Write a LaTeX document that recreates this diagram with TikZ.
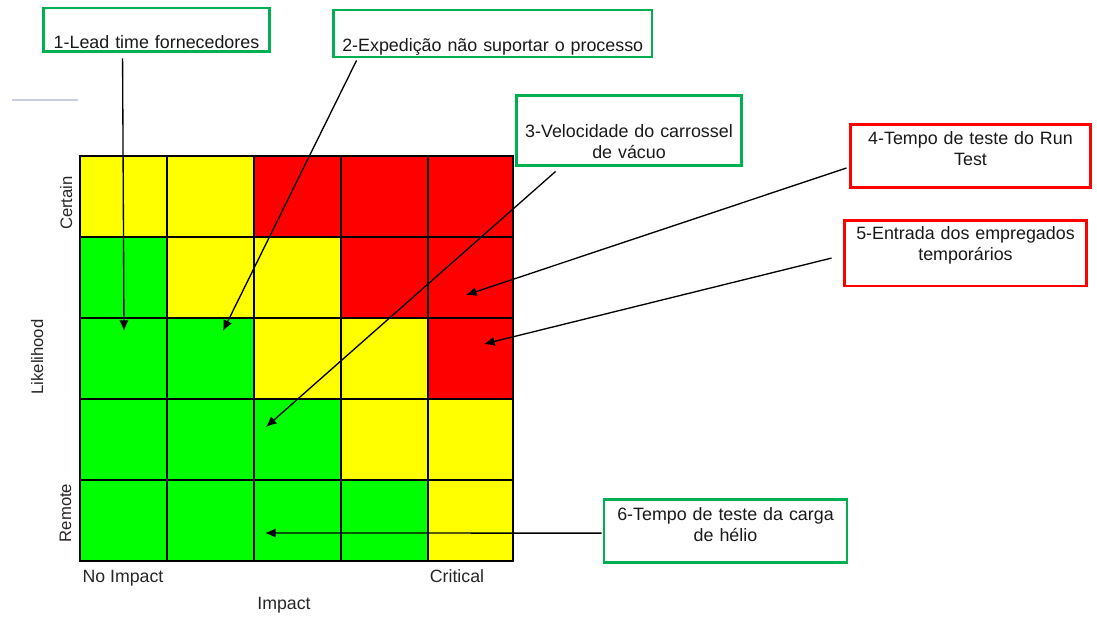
\documentclass[tikz,border=0pt]{standalone}
\usepackage{xcolor}
\usepackage{fontspec}
\setmainfont{Liberation Sans}
\usepackage{tikz}
\usetikzlibrary{calc,positioning,arrows.meta}

\definecolor{riskgreen}{RGB}{0,255,0}
\definecolor{riskyellow}{RGB}{255,255,0}
\definecolor{riskred}{RGB}{255,0,0}
\definecolor{boxgreen}{RGB}{0,176,80}
\definecolor{boxred}{RGB}{255,0,0}
\definecolor{rulegray}{RGB}{200,208,224}

\begin{document}
\begin{tikzpicture}[x=0.75pt, y=-0.75pt,
  cell/.style={draw=black, line width=1.4pt},
  causebox/.style={draw, line width=2.2pt, inner sep=0pt, align=center, anchor=base,
    text=black!90, font=\fontsize{13.4}{15.75}\selectfont},
  greenbox/.style={causebox, draw=boxgreen},
  redbox/.style={causebox, draw=boxred},
  axislabel/.style={inner sep=0pt, anchor=base, text=black!85, font=\fontsize{13.3}{16}\selectfont},
  sidelabel/.style={axislabel, rotate=90, font=\fontsize{12.5}{15}\selectfont},
  causearrow/.style={-{Latex[length=8pt,width=7pt]}, line width=1pt}]
\useasboundingbox (0,0) rectangle (1097,631);

%Risk matrix, row Certain
\filldraw[cell, fill=riskyellow] (80,156) rectangle (167,237);
\filldraw[cell, fill=riskyellow] (167,156) rectangle (254,237);
\filldraw[cell, fill=riskred] (254,156) rectangle (341,237);
\filldraw[cell, fill=riskred] (341,156) rectangle (428,237);
\filldraw[cell, fill=riskred] (428,156) rectangle (513,237);
%Row 2
\filldraw[cell, fill=riskgreen] (80,237) rectangle (167,318);
\filldraw[cell, fill=riskyellow] (167,237) rectangle (254,318);
\filldraw[cell, fill=riskyellow] (254,237) rectangle (341,318);
\filldraw[cell, fill=riskred] (341,237) rectangle (428,318);
\filldraw[cell, fill=riskred] (428,237) rectangle (513,318);
%Row 3
\filldraw[cell, fill=riskgreen] (80,318) rectangle (167,399);
\filldraw[cell, fill=riskgreen] (167,318) rectangle (254,399);
\filldraw[cell, fill=riskyellow] (254,318) rectangle (341,399);
\filldraw[cell, fill=riskyellow] (341,318) rectangle (428,399);
\filldraw[cell, fill=riskred] (428,318) rectangle (513,399);
%Row 4
\filldraw[cell, fill=riskgreen] (80,399) rectangle (167,480);
\filldraw[cell, fill=riskgreen] (167,399) rectangle (254,480);
\filldraw[cell, fill=riskgreen] (254,399) rectangle (341,480);
\filldraw[cell, fill=riskyellow] (341,399) rectangle (428,480);
\filldraw[cell, fill=riskyellow] (428,399) rectangle (513,480);
%Row Remote
\filldraw[cell, fill=riskgreen] (80,480) rectangle (167,561);
\filldraw[cell, fill=riskgreen] (167,480) rectangle (254,561);
\filldraw[cell, fill=riskgreen] (254,480) rectangle (341,561);
\filldraw[cell, fill=riskgreen] (341,480) rectangle (428,561);
\filldraw[cell, fill=riskyellow] (428,480) rectangle (513,561);

%Axis labels
\node[axislabel] (noimpact) at (123,582) {No Impact};
\node[axislabel] (critical) at (457,582) {Critical};
\node[axislabel] (impact) at (284,609) {Impact};
\node[sidelabel] (certain) at (72,203) {Certain};
\node[sidelabel] (likelihood) at (43,357) {Likelihood};
\node[sidelabel] (remote) at (71,513) {Remote};

%Cause boxes
\node[greenbox, text width=169.5pt, text height=30.75pt, text depth=1.9pt] (b1) at (156.5,49)
 {1-Lead time fornecedores};
\node[greenbox, text width=238.9pt, text height=31.5pt, text depth=3.75pt] (b2) at (492.75,52)
 {2-Expedição não suportar o processo};
\node[greenbox, text width=168.75pt, text height=31.9pt, text depth=20.6pt] (b3) at (629,138)
 {3-Velocidade do carrossel\\de vácuo};
\node[redbox, text width=180pt, text height=15.4pt, text depth=31.9pt] (b4) at (970.5,145)
 {4-Tempo de teste do Run\\Test};
\node[redbox, text width=181.5pt, text height=14.6pt, text depth=34.5pt] (b5) at (965.5,240)
 {5-Entrada dos empregados\\temporários};
\node[greenbox, text width=182.25pt, text height=15.75pt, text depth=31pt] (b6) at (725.5,520.7)
 {6-Tempo de teste da carga\\de hélio};

%Arrow tips in the matrix
\coordinate (t1) at (124,331);
\coordinate (t2) at (223,331);
\coordinate (t3) at (266,427);
\coordinate (t4) at (466,295);
\coordinate (t5) at (484,344);
\coordinate (t6) at (265,533);

%Arrows
\draw[causearrow] ([xshift=60.4pt, yshift=-4pt]b1.south west) -- (t1);
\draw[causearrow] ([xshift=18.4pt, yshift=-1.5pt]b2.south west) -- (t2);
\draw[causearrow] ([xshift=30.4pt, yshift=-3.4pt]b3.south west) -- (t3);
\draw[causearrow] ([xshift=-1.9pt, yshift=-9pt]b4.west) -- (t4);
\draw[causearrow] ([xshift=-8.6pt, yshift=-3.6pt]b5.west) -- (t5);
\draw[causearrow] ([xshift=-0.75pt, yshift=-1.7pt]b6.west) -- (t6);

%Stray rule
\draw[rulegray, line width=1.2pt] (12,100) -- (78,100);

\end{tikzpicture}
\end{document}
